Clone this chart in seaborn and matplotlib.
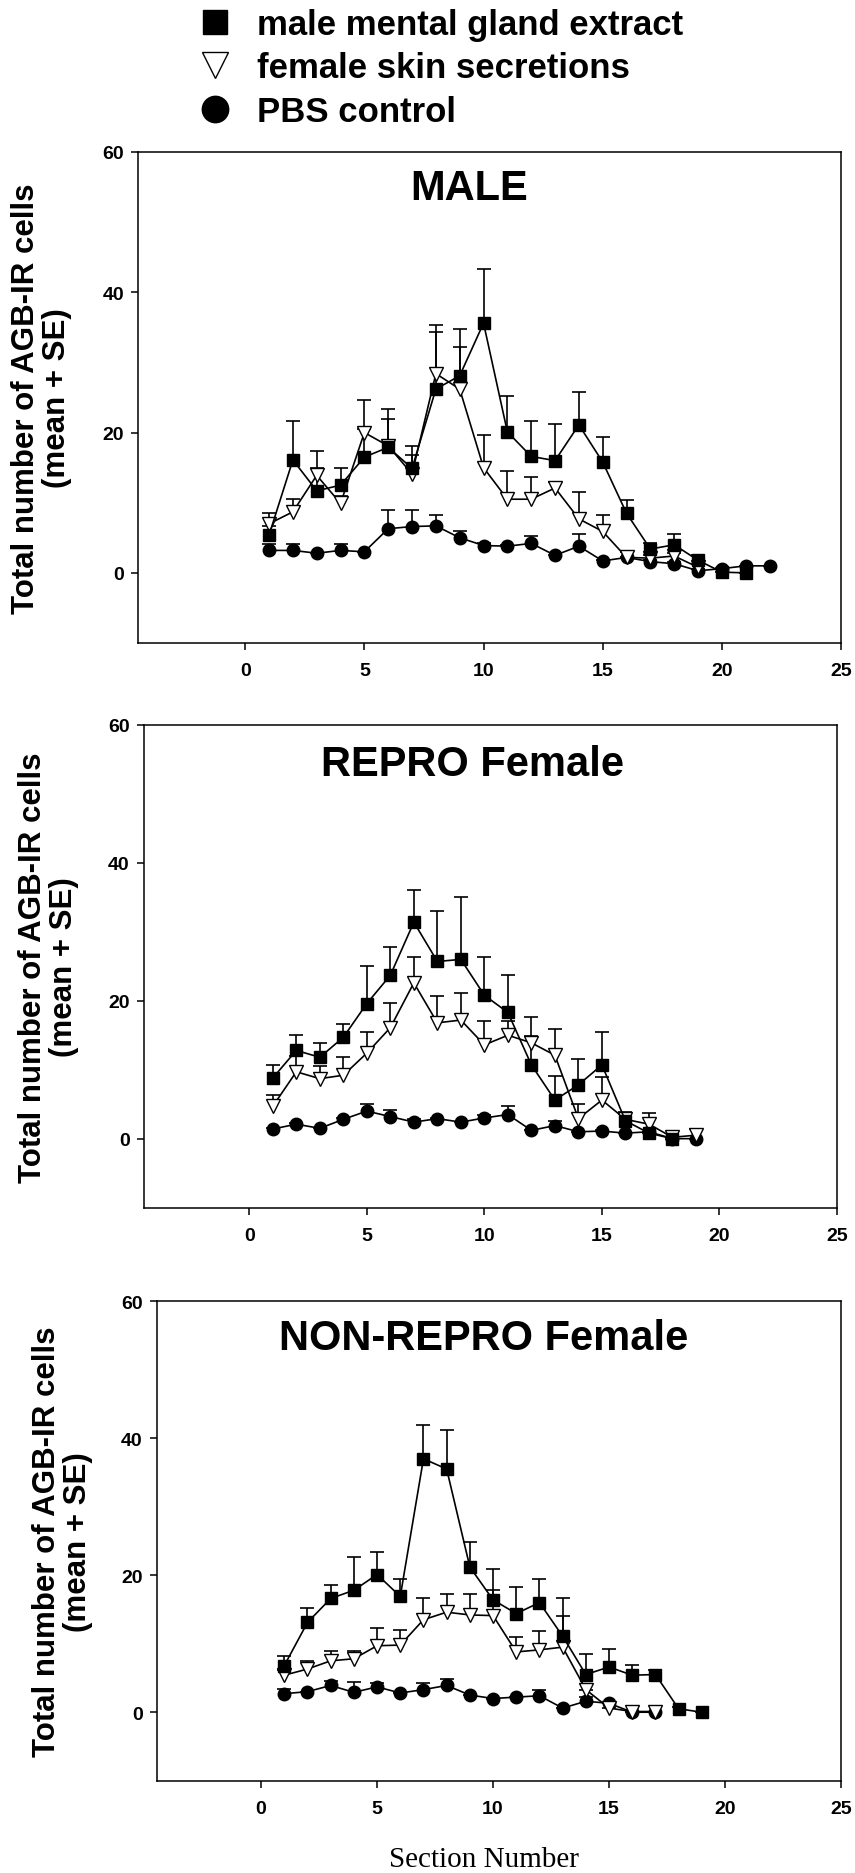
import numpy as np
import pandas as pd
import matplotlib
matplotlib.use("Agg")
import matplotlib.pyplot as plt
from matplotlib.lines import Line2D
import seaborn as sns

sns.set_theme(style="white")
plt.rcParams["font.family"] = ["Liberation Sans", "DejaVu Sans"]
plt.rcParams["font.weight"] = "bold"
plt.rcParams["text.color"] = "black"
plt.rcParams["axes.labelcolor"] = "black"
plt.rcParams["xtick.color"] = "black"
plt.rcParams["ytick.color"] = "black"

# ---------------- data (mean and mean+SE) ----------------
series_labels = ["male mental gland extract", "female skin secretions", "PBS control"]
panel_titles = ["MALE", "REPRO Female", "NON-REPRO Female"]
x_ticks = [0, 5, 10, 15, 20, 25]
y_ticks = [0, 20, 40, 60]

male_mgx_mean = [5.4, 16.1, 11.7, 12.5, 16.5, 17.9, 14.9, 26.2, 28.1, 35.6, 20.1, 16.6, 16.0, 21.1, 15.8, 8.5, 3.4, 4.0, 1.8, 0.1, 0.0]
male_mgx_top = [6.7, 21.7, 17.4, 15.0, 20.5, 23.3, 18.1, 34.3, 34.8, 43.3, 25.2, 21.6, 21.2, 25.8, 19.4, 10.4, 4.3, 5.6, 2.5, 0.1, 0.0]
male_fss_mean = [7.0, 8.7, 13.9, 9.9, 20.0, 18.1, 14.1, 28.4, 26.2, 15.0, 10.5, 10.5, 12.1, 7.7, 5.9, 2.2, 2.1, 2.4, 0.8]
male_fss_top = [8.6, 10.5, 15.0, 11.0, 24.7, 21.9, 16.8, 35.3, 32.2, 19.7, 14.5, 13.6, 13.0, 11.5, 8.2, 3.0, 2.5, 2.8, 1.2]
male_pbs_mean = [3.2, 3.2, 2.8, 3.2, 3.0, 6.3, 6.6, 6.7, 5.0, 3.9, 3.8, 4.2, 2.5, 3.8, 1.7, 2.2, 1.6, 1.3, 0.3, 0.6, 1.0, 1.0]
male_pbs_top = [4.1, 4.1, 2.8, 4.1, 3.0, 8.9, 9.0, 8.3, 5.9, 4.2, 4.0, 5.3, 2.5, 5.5, 1.9, 2.3, 1.8, 1.5, 0.5, 0.7, 1.0, 1.0]

repro_mgx_mean = [8.8, 12.8, 11.8, 14.7, 19.6, 23.7, 31.4, 25.7, 26.0, 20.8, 18.3, 10.7, 5.6, 7.8, 10.7, 2.6, 0.8, 0.0]
repro_mgx_top = [10.7, 15.0, 13.9, 16.7, 25.1, 27.8, 36.1, 33.0, 35.0, 26.3, 23.7, 14.9, 9.1, 11.5, 15.5, 3.8, 0.8, 0.0]
repro_fss_mean = [4.7, 9.7, 8.7, 9.2, 12.4, 16.1, 22.6, 16.8, 17.2, 13.6, 15.0, 13.9, 12.1, 2.9, 5.6, 2.8, 2.1, 0.2, 0.5]
repro_fss_top = [6.3, 12.0, 10.5, 11.9, 15.4, 19.7, 26.4, 20.7, 21.1, 17.1, 17.0, 17.7, 15.9, 5.0, 8.9, 3.6, 3.7, 0.3, 1.4]
repro_pbs_mean = [1.4, 2.1, 1.5, 2.8, 4.0, 3.2, 2.4, 2.9, 2.4, 3.0, 3.5, 1.2, 1.9, 1.0, 1.1, 0.8, 1.0, 0.0, 0.0]
repro_pbs_top = [1.6, 2.3, 1.5, 3.0, 5.0, 4.1, 2.9, 3.0, 2.4, 3.5, 4.7, 1.2, 2.6, 1.0, 1.2, 0.8, 1.0, 0.0, 0.0]

nonrepro_mgx_mean = [6.8, 13.1, 16.6, 17.8, 20.1, 16.9, 37.0, 35.5, 21.2, 16.4, 14.4, 16.0, 11.1, 5.5, 6.6, 5.4, 5.5, 0.5, 0.0]
nonrepro_mgx_top = [8.2, 15.2, 18.5, 22.7, 23.4, 19.5, 41.9, 41.2, 24.8, 20.9, 18.3, 19.5, 16.6, 8.5, 9.2, 6.9, 6.2, 0.7, 0.0]
nonrepro_fss_mean = [5.4, 6.3, 7.5, 7.8, 9.7, 9.8, 13.5, 14.6, 14.2, 14.1, 8.8, 9.1, 9.5, 3.3, 0.6, 0.1, 0.1]
nonrepro_fss_top = [6.2, 7.5, 9.0, 9.0, 12.3, 12.0, 16.6, 17.3, 17.3, 17.8, 11.0, 11.9, 14.1, 3.3, 0.6, 0.1, 0.1]
nonrepro_pbs_mean = [2.7, 3.0, 3.9, 2.9, 3.7, 2.8, 3.3, 3.9, 2.5, 2.0, 2.2, 2.4, 0.6, 1.6, 1.3, 0.0, 0.0]
nonrepro_pbs_top = [3.4, 3.0, 4.6, 4.4, 4.3, 2.8, 4.3, 4.8, 2.5, 2.0, 2.2, 3.2, 0.6, 2.2, 1.3, 0.0, 0.0]

panels = [
    [(male_pbs_mean, male_pbs_top), (male_fss_mean, male_fss_top), (male_mgx_mean, male_mgx_top)],
    [(repro_pbs_mean, repro_pbs_top), (repro_fss_mean, repro_fss_top), (repro_mgx_mean, repro_mgx_top)],
    [(nonrepro_pbs_mean, nonrepro_pbs_top), (nonrepro_fss_mean, nonrepro_fss_top), (nonrepro_mgx_mean, nonrepro_mgx_top)],
]

# drawing order: PBS, female, male (male on top)
styles = [
    dict(marker="o", markersize=9, markerfacecolor="black"),
    dict(marker="v", markersize=10, markerfacecolor="white"),
    dict(marker="s", markersize=8, markerfacecolor="black"),
]

W, H = 855, 1874
fig = plt.figure(figsize=(W / 100, H / 100), dpi=100)

# axes boxes in pixels: left, top, right, bottom
boxes = [(138, 153, 841, 644), (143.5, 726, 837, 1208.6), (156.7, 1302.2, 841, 1781.7)]
title_pos = [(0.471, 0.927), (0.474, 0.919), (0.478, 0.923)]

for box, tpos, title, pdata in zip(boxes, title_pos, panel_titles, panels):
    l, t, r, b = box
    ax = fig.add_axes([l / W, 1 - b / H, (r - l) / W, (b - t) / H])
    for (mean, top), st in zip(pdata, styles):
        mean = np.asarray(mean, float)
        se = np.asarray(top, float) - mean
        x = np.arange(1, len(mean) + 1)
        eb = ax.errorbar(x, mean, yerr=[np.zeros_like(se), se], fmt="none",
                         ecolor="black", elinewidth=1.2, capsize=5, capthick=1.2, zorder=2)
        eb[1][0].set_visible(False)
        df = pd.DataFrame({"section": x, "count": mean})
        sns.lineplot(data=df, x="section", y="count", ax=ax, color="black", lw=1.2,
                     markeredgecolor="black", markeredgewidth=1.0, zorder=3, **st)
    ax.set_xlim(-4.5, 25)
    ax.set_ylim(-10, 60)
    ax.set_xticks(x_ticks)
    ax.set_yticks(y_ticks)
    ax.set_xlabel("")
    ax.set_ylabel("Total number of AGB-IR cells\n(mean + SE)", fontsize=22.5,
                  fontweight="bold", linespacing=1.05, color="black")
    ax.yaxis.set_label_coords(-0.0935, 0.5)
    ax.tick_params(axis="both", which="major", direction="out", length=5, width=1.1,
                   left=True, bottom=True, labelsize=14, colors="black")
    ax.tick_params(axis="x", pad=9)
    ax.tick_params(axis="y", pad=5)
    for lab in ax.get_xticklabels() + ax.get_yticklabels():
        lab.set_fontweight("bold")
    for sp in ax.spines.values():
        sp.set_visible(True)
        sp.set_color("black")
        sp.set_linewidth(1.1)
    ax.text(tpos[0], tpos[1], title, transform=ax.transAxes, ha="center", va="center",
            fontsize=30, fontweight="bold", color="black")

handles = [
    Line2D([], [], ls="none", marker="s", markersize=17, color="black"),
    Line2D([], [], ls="none", marker="v", markersize=19, markerfacecolor="white",
           markeredgecolor="black", markeredgewidth=1.0),
    Line2D([], [], ls="none", marker="o", markersize=19, color="black"),
]
fig.legend(handles, series_labels, loc="upper left", bbox_to_anchor=(198 / W, 1 - 9 / H),
           frameon=False, prop=dict(weight="bold", size=25), handlelength=1.0,
           handletextpad=0.7, labelspacing=0.3, borderpad=0.0, borderaxespad=0.0,
           labelcolor="black")

fig.text(484 / W, 1 - 1860 / H, "Section Number", ha="center", va="center",
         fontsize=21, fontweight="normal", color="black",
         family=["Liberation Serif", "DejaVu Serif"])

fig.savefig("out.png", dpi=100)
